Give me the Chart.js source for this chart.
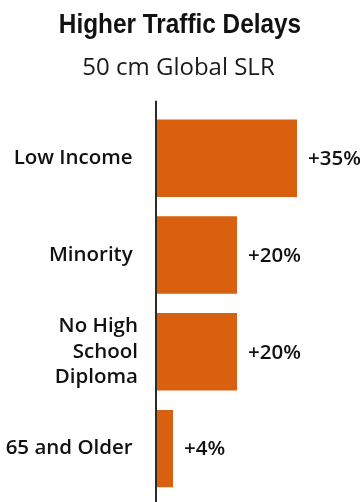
<!DOCTYPE html>
<html>
<head>
<meta charset="utf-8">
<script src="https://cdn.jsdelivr.net/npm/chart.js@4"></script>
<style>
  html, body { margin: 0; padding: 0; background: #fff; }
  #wrap { width: 360px; height: 502px; }
</style>
</head>
<body>
<div id="wrap"><canvas id="chart"></canvas></div>
<script>
// Groups and the increase in traffic delay (percent) under 50 cm of sea level rise
const groups = ['Low Income', 'Minority', ['No High', 'School', 'Diploma'], '65 and Older'];
const delayIncrease = [35, 20, 20, 4];
const valueLabels = ['+35%', '+20%', '+20%', '+4%'];
const chartTitle = 'Higher Traffic Delays';
const chartSubtitle = '50 cm Global SLR';

const barColor = '#d9600f';
const textColor = '#111111';

// Condensed bold headline, drawn centred above the subtitle
const headlinePlugin = {
  id: 'headline',
  afterDraw(chart) {
    const { ctx } = chart;
    ctx.save();
    ctx.font = 'bold 28px "Liberation Sans", Arial, sans-serif';
    ctx.fillStyle = textColor;
    ctx.textAlign = 'center';
    ctx.textBaseline = 'alphabetic';
    ctx.translate(chart.width / 2, 33);
    ctx.scale(0.87, 1);
    ctx.fillText(chartTitle, 0, 0);
    ctx.restore();
  }
};

// Writes the percentage just past the end of each bar
const valueLabelPlugin = {
  id: 'valueLabels',
  afterDatasetsDraw(chart) {
    const { ctx } = chart;
    const meta = chart.getDatasetMeta(0);
    ctx.save();
    ctx.font = '600 20.5px "Open Sans", sans-serif';
    ctx.fillStyle = textColor;
    ctx.textAlign = 'left';
    ctx.textBaseline = 'middle';
    meta.data.forEach((bar, i) => {
      ctx.fillText(valueLabels[i], bar.x + 11, bar.y + 1);
    });
    ctx.restore();
  }
};

// Vertical baseline at zero, running a little past the plot area
const baselinePlugin = {
  id: 'baseline',
  afterDraw(chart) {
    const { ctx, chartArea } = chart;
    const x = chart.scales.x.getPixelForValue(0) - 1;
    ctx.save();
    ctx.strokeStyle = '#2b2b2b';
    ctx.lineWidth = 2;
    ctx.beginPath();
    ctx.moveTo(x, chartArea.top - 9);
    ctx.lineTo(x, chart.height);
    ctx.stroke();
    ctx.restore();
  }
};

new Chart(document.getElementById('chart'), {
  type: 'bar',
  data: {
    labels: groups,
    datasets: [{
      data: delayIncrease,
      backgroundColor: barColor,
      borderWidth: 0,
      categoryPercentage: 0.8,
      barPercentage: 1.0
    }]
  },
  options: {
    indexAxis: 'y',
    responsive: true,
    maintainAspectRatio: false,
    animation: false,
    layout: { padding: { top: 4, right: 3, bottom: 5, left: 0 } },
    plugins: {
      legend: { display: false },
      tooltip: { enabled: false },
      title: { display: false },
      subtitle: {
        display: true,
        text: chartSubtitle,
        color: '#1a1a1a',
        font: { family: '"Open Sans", sans-serif', size: 24, weight: 'normal', lineHeight: 1.2 },
        padding: { top: 50, bottom: 27 }
      }
    },
    scales: {
      x: {
        display: false,
        min: 0,
        max: 50
      },
      y: {
        afterFit(axis) {
          axis.width = 157;
          axis.paddingTop = 0;
          axis.paddingBottom = 0;
        },
        grid: { display: false, drawTicks: false },
        border: { display: false },
        ticks: {
          color: textColor,
          padding: 19,
          font: { family: '"Open Sans", sans-serif', size: 20.5, weight: '600', lineHeight: 1.25 },
          callback(value) {
            const label = this.getLabelForValue(value);
            return Array.isArray(label) ? label : label + ' ';
          }
        }
      }
    }
  },
  plugins: [headlinePlugin, valueLabelPlugin, baselinePlugin]
});
</script>
</body>
</html>
